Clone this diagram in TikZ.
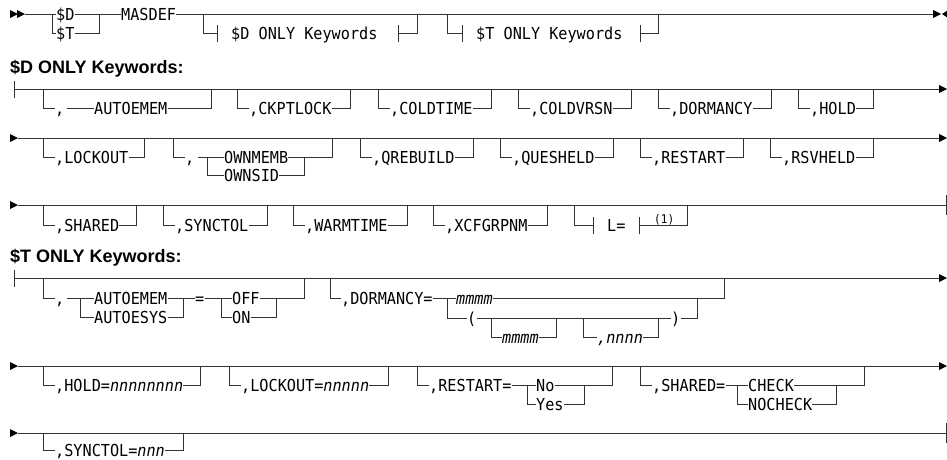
\documentclass[tikz,border=0pt]{standalone}
\usepackage{fontspec}
\newfontfamily\kwf[FakeStretch=0.92]{DejaVu Sans Mono}
\newfontfamily\hdf{Liberation Sans}
\tikzset{
  kw/.style={font={\kwf\fontsize{16.5}{19}\selectfont}, inner sep=0pt, text height=12pt, text depth=0pt, anchor=west},
  sup/.style={font={\kwf\fontsize{12}{14}\selectfont}, inner sep=0pt, anchor=base west},
  hd/.style={font={\hdf\bfseries\fontsize{18}{20}\selectfont}, inner sep=0pt, anchor=base west},
  rail/.style={line width=0.8pt, draw=black!80},
  tip/.style={fill=black}
}
\newcommand\optbranch[6]{%
  \node[kw] (#1) at (#2+12,#4) {#5};
  \draw[rail] (#2,#3) |- (#1.west);
  \draw[rail] (#1.east) -| (#6,#3);}
\newcommand\rarr[2]{\fill[tip] (#1,#2-4) -- (#1+8,#2) -- (#1,#2+4) -- cycle;}
\newcommand\vtick[2]{\draw[rail] (#1,#2-8) -- (#1,#2+9);}
\begin{document}
\begin{tikzpicture}[x=1pt, y={(0pt,-1pt)}]
\useasboundingbox (0,0) rectangle (947,459);

% ---------------- Row 1 ----------------
\rarr{10}{14}\rarr{17}{14}
\node[kw] (sd) at (56,14) {\$D};
\node[kw] (st) at (56,33) {\$T};
\node[kw] (mas) at (121,14) {MASDEF};
\draw[rail] (25,14) -- (sd.west);
\draw[rail] (52,14) |- (st.west);
\draw[rail] (st.east) -| (99,14);
\draw[rail] (sd.east) -- (mas.west);
\draw[rail] (mas.east) -- (934,14);
\rarr{933}{14}
\fill[tip] (942,14) -- (948,10) -- (948,18) -- cycle;
\draw[rail] (203,14) |- (217,33);
\vtick{217}{33}
\node[kw] (dref) at (231,33) {\$D ONLY Keywords};
\vtick{398}{33}
\draw[rail] (398,33) -| (417,14);
\draw[rail] (447,14) |- (462,33);
\vtick{462}{33}
\node[kw] (tref) at (476,33) {\$T ONLY Keywords};
\vtick{640}{33}
\draw[rail] (640,33) -| (658,14);

% ---------------- $D ONLY Keywords ----------------
\node[hd] (h1) at (10,73) {\$D ONLY Keywords:};
% row 2
\vtick{14}{89}
\draw[rail] (14,89) -- (940,89);
\rarr{939}{89}
\node[kw] (c1) at (55,108) {,};
\node[kw] (ae1) at (94,108) {AUTOEMEM};
\draw[rail] (43,89) |- (c1.west);
\draw[rail] (67,108) -- (ae1.west);
\draw[rail] (ae1.east) -| (211,89);
\optbranch{ck}{237}{89}{108}{,CKPTLOCK}{350}
\optbranch{ct}{378}{89}{108}{,COLDTIME}{491}
\optbranch{cv}{518}{89}{108}{,COLDVRSN}{631}
\optbranch{dr}{658}{89}{108}{,DORMANCY}{771}
\optbranch{hl}{798}{89}{108}{,HOLD}{873}

% row 3
\rarr{10}{138}
\draw[rail] (18,138) -- (940,138);
\rarr{939}{138}
\optbranch{lo}{43}{138}{157}{,LOCKOUT}{144}
\node[kw] (c2) at (185,157) {,};
\node[kw] (om) at (224,157) {OWNMEMB};
\node[kw] (os) at (224,175) {OWNSID};
\draw[rail] (173,138) |- (c2.west);
\draw[rail] (198,157) -- (om.west);
\draw[rail] (om.east) -| (332,138);
\draw[rail] (207,157) |- (os.west);
\draw[rail] (os.east) -| (304,157);
\optbranch{qr}{360}{138}{157}{,QREBUILD}{473}
\optbranch{qh}{500}{138}{157}{,QUESHELD}{613}
\optbranch{rs}{640}{138}{157}{,RESTART}{743}
\optbranch{rv}{770}{138}{157}{,RSVHELD}{873}

% row 4
\rarr{10}{205}
\draw[rail] (18,205) -- (946,205);
\draw[rail] (946,195) -- (946,215);
\optbranch{sh}{43}{205}{225}{,SHARED}{136}
\optbranch{sy}{163}{205}{225}{,SYNCTOL}{267}
\optbranch{wt}{293}{205}{225}{,WARMTIME}{407}
\optbranch{xc}{433}{205}{225}{,XCFGRPNM}{547}
\draw[rail] (574,205) |- (593,225);
\vtick{593}{225}
\node[kw] (leq) at (607,225) {L=};
\vtick{639}{225}
\draw[rail] (639,225) -| (687,205);
\node[sup] (fn) at (654,223) {(1)};

% ---------------- $T ONLY Keywords ----------------
\node[hd] (h2) at (10,262) {\$T ONLY Keywords:};
% row 5
\vtick{14}{278}
\draw[rail] (14,278) -- (940,278);
\rarr{939}{278}
\node[kw] (c3) at (55,298) {,};
\node[kw] (ae2) at (94,298) {AUTOEMEM};
\node[kw] (as) at (94,317) {AUTOESYS};
\node[kw] (eq) at (195,298) {=};
\node[kw] (off) at (232,298) {OFF};
\node[kw] (on) at (232,317) {ON};
\draw[rail] (43,278) |- (c3.west);
\draw[rail] (67,298) -- (ae2.west);
\draw[rail] (80,298) |- (as.west);
\draw[rail] (as.east) -| (183,298);
\draw[rail] (ae2.east) -- (eq.west);
\draw[rail] (eq.east) -- (off.west);
\draw[rail] (221,298) |- (on.west);
\draw[rail] (on.east) -| (276,298);
\draw[rail] (off.east) -| (304,278);

\node[kw] (dm) at (341,298) {,DORMANCY=};
\node[kw] (m1) at (456,298) {\itshape mmmm};
\node[kw] (lp) at (467,318) {(};
\node[kw] (rp) at (671,318) {)};
\node[kw] (m2) at (502,337) {\itshape mmmm};
\node[kw] (nn) at (597,337) {\itshape ,nnnn};
\draw[rail] (330,278) |- (dm.west);
\draw[rail] (dm.east) -- (m1.west);
\draw[rail] (m1.east) -| (724,278);
\draw[rail] (447,298) |- (lp.west);
\draw[rail] (lp.east) -- (rp.west);
\draw[rail] (rp.east) -| (697,298);
\draw[rail] (491,318) |- (m2.west);
\draw[rail] (m2.east) -| (556,318);
\draw[rail] (583,318) |- (nn.west);
\draw[rail] (nn.east) -| (658,318);

% row 6
\rarr{10}{366}
\draw[rail] (18,366) -- (940,366);
\rarr{939}{366}
\optbranch{hd2}{43}{366}{385}{,HOLD={\itshape nnnnnnnn}}{200}
\optbranch{lk2}{229}{366}{385}{,LOCKOUT={\itshape nnnnn}}{388}
\node[kw] (rst) at (429,385) {,RESTART=};
\node[kw] (no) at (536,385) {No};
\node[kw] (yes) at (536,404) {Yes};
\draw[rail] (417,366) |- (rst.west);
\draw[rail] (rst.east) -- (no.west);
\draw[rail] (527,385) |- (yes.west);
\draw[rail] (yes.east) -| (584,385);
\draw[rail] (no.east) -| (612,366);
\node[kw] (shd) at (652,385) {,SHARED=};
\node[kw] (chk) at (748,385) {CHECK};
\node[kw] (nchk) at (748,404) {NOCHECK};
\draw[rail] (640,366) |- (shd.west);
\draw[rail] (shd.east) -- (chk.west);
\draw[rail] (737,385) |- (nchk.west);
\draw[rail] (nchk.east) -| (836,385);
\draw[rail] (chk.east) -| (864,366);

% row 7
\rarr{10}{433}
\draw[rail] (18,433) -- (946,433);
\draw[rail] (946,423) -- (946,443);
\optbranch{sy2}{43}{433}{450}{,SYNCTOL={\itshape nnn}}{183}
\end{tikzpicture}
\end{document}
